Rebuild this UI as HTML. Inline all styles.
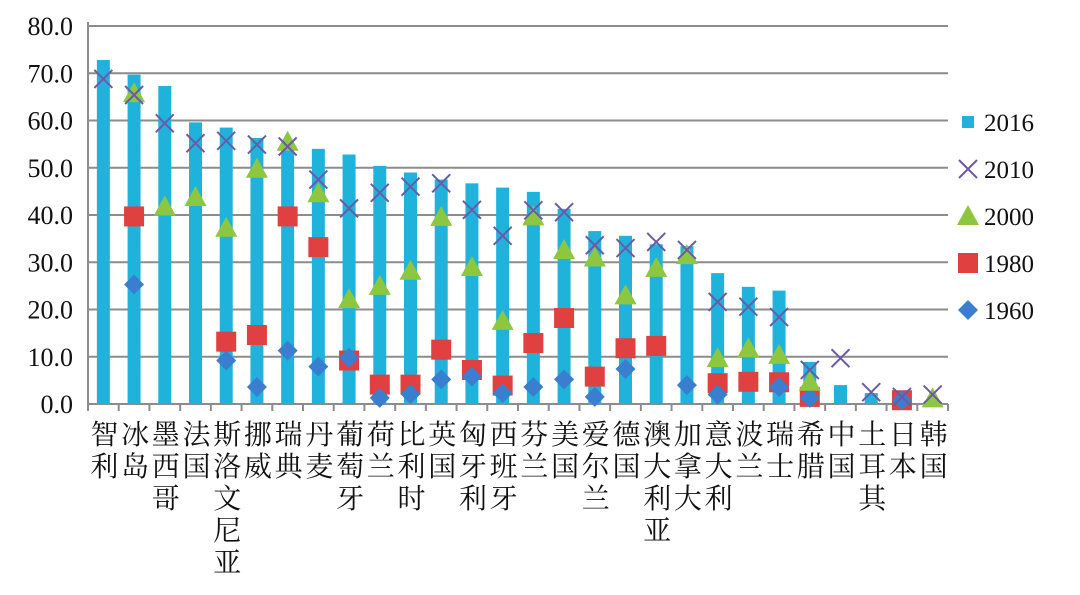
<!DOCTYPE html>
<html><head><meta charset="utf-8"><style>
body{margin:0;background:#fff;}
svg{display:block;font-family:"Liberation Serif","Noto Serif CJK SC","Noto Sans CJK SC",serif;}
</style></head><body>
<svg id="chart" width="1080" height="595" viewBox="0 0 1080 595"></svg>
<script>
const categories=["智利","冰岛","墨西哥","法国","斯洛文尼亚","挪威","瑞典","丹麦","葡萄牙","荷兰","比利时","英国","匈牙利","西班牙","芬兰","美国","爱尔兰","德国","澳大利亚","加拿大","意大利","波兰","瑞士","希腊","中国","土耳其","日本","韩国"];
const v2016=[72.8,69.7,67.3,59.6,58.5,56.3,54.3,54.0,52.8,50.4,49.0,47.5,46.7,45.8,44.9,41.3,36.6,35.6,33.8,33.4,27.7,24.8,24.0,8.9,4.0,2.3,0.5,0.3];
const v2010=[68.8,65.4,59.4,55.2,55.7,54.9,54.5,47.5,41.4,44.7,46.0,46.7,41.1,35.6,41.0,40.6,33.6,33.0,34.3,32.6,21.6,20.6,18.4,7.2,9.7,2.5,1.5,2.0];
const v2000=[null,65.8,41.8,43.8,37.3,49.8,55.5,44.6,22.2,25.0,28.2,39.6,29.0,17.6,39.7,32.6,31.0,23.0,28.8,31.5,9.7,11.8,10.4,4.7,null,null,null,1.2];
const v1980=[null,39.7,null,null,13.2,14.6,39.7,33.2,9.2,4.1,4.1,11.5,7.2,3.9,12.9,18.2,5.8,11.8,12.3,null,4.4,4.7,4.6,1.5,null,null,0.8,null];
const v1960=[null,25.3,null,null,9.2,3.6,11.3,7.9,9.8,1.3,2.1,5.2,5.8,2.3,3.6,5.2,1.5,7.4,null,4.0,2.0,null,3.6,1.3,null,null,0.8,null];
const yTicks=[0,10,20,30,40,50,60,70,80];
const legendLabels=["2016","2010","2000","1980","1960"];

const NS="http://www.w3.org/2000/svg";
const svg=document.getElementById('chart');
const X0=88,X1=948,Y0=404,YTOP=26,YMAX=80;
const bw=(X1-X0)/categories.length;
const x=i=>X0+bw*(i+0.5);
const y=v=>Y0-(v/YMAX)*(Y0-YTOP);
function el(t,a,p){const e=document.createElementNS(NS,t);for(const k in a)e.setAttribute(k,a[k]);(p||svg).appendChild(e);return e;}

yTicks.forEach(t=>{
  if(t>0){const g=el('line',{x1:X0,x2:X1,y1:y(t),y2:y(t),stroke:'#8c8c8c','stroke-width':2});
  
  }
  const tx=el('text',{x:73,y:y(t)+9,'text-anchor':'end','font-size':26,fill:'#111'});
  tx.textContent=t.toFixed(1);
  
  
});
const ya=el('line',{x1:X0,x2:X0,y1:YTOP-4,y2:Y0,stroke:'#8c8c8c','stroke-width':2});


const xa=el('line',{x1:X0,x2:X1,y1:Y0,y2:Y0,stroke:'#8c8c8c','stroke-width':2});


for(let i=0;i<=categories.length;i++){
  const tk=el('line',{x1:X0+bw*i,x2:X0+bw*i,y1:Y0,y2:Y0+7,stroke:'#8c8c8c','stroke-width':2});
  
  
}
categories.forEach((c,i)=>{
  const g=el('text',{'text-anchor':'middle','font-size':28,fill:'#111'});
  
  
  [...c].forEach((ch,j)=>{const ts=el('tspan',{x:x(i)+1,y:444+j*32},g);ts.textContent=ch;});
});
v2016.forEach((v,i)=>{
  const r=el('rect',{x:x(i)-6.5,y:y(v),width:13,height:Y0-y(v),fill:'#1fb3dc'});
  
  
});
function marker(type,cx,cy,g){
  if(type==='x')return el('path',{d:`M${cx-9},${cy-9}L${cx+9},${cy+9}M${cx+9},${cy-9}L${cx-9},${cy+9}`,stroke:'#6a5aa8','stroke-width':2,fill:'none'},g);
  if(type==='tri')return el('path',{d:`M${cx},${cy-11}L${cx+11},${cy+9}L${cx-11},${cy+9}Z`,fill:'#8dc63f'},g);
  if(type==='sq')return el('rect',{x:cx-10,y:cy-10,width:20,height:20,fill:'#e0403f'},g);
  return el('path',{d:`M${cx},${cy-10}L${cx+10},${cy}L${cx},${cy+10}L${cx-10},${cy}Z`,fill:'#3a7fcf'},g);
}
[[v1980,'sq','marker-1980'],[v1960,'dia','marker-1960'],[v2000,'tri','marker-2000'],[v2010,'x','marker-2010']].forEach(([arr,t,n])=>{
  arr.forEach((v,i)=>{if(v==null)return;
    const m=marker(t,x(i),y(v));
    
    
  });
});
const types=['bar','x','tri','sq','dia'];
legendLabels.forEach((l,k)=>{
  const ly=122+k*47;
  const g=el('g',{});
  
  
  if(types[k]==='bar')el('rect',{x:962,y:ly-6,width:12,height:12,fill:'#1fb3dc'},g);
  else marker(types[k],968,ly,g);
  const t=el('text',{x:984,y:ly+9,'font-size':25,fill:'#111'},g);
  t.textContent=l;
});
</script>
</body></html>
